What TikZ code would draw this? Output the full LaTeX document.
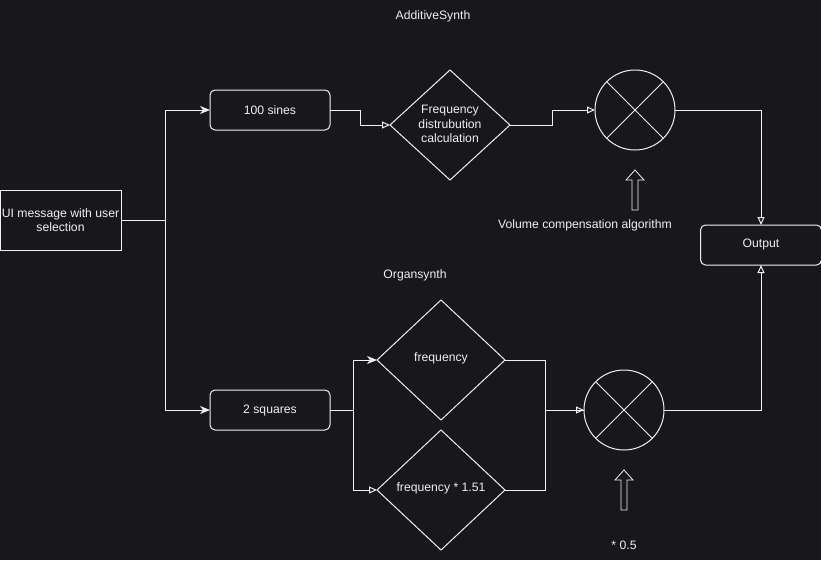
\documentclass[tikz,border=0pt]{standalone}
\usepackage{fontspec}
\setmainfont{Liberation Sans}
\usetikzlibrary{arrows.meta,shapes.geometric}
\definecolor{bgdark}{RGB}{24,23,28}
\definecolor{ink}{RGB}{240,240,240}
\begin{document}
\begin{tikzpicture}[x=1pt, y=-1pt, line width=1pt, draw=ink, text=ink,
	font=\fontsize{12.2}{14.5}\selectfont,
	box/.style={draw=ink, minimum width=120, minimum height=40, inner sep=0, outer sep=0},
	rbox/.style={box, rounded corners=5pt},
	dia/.style={diamond, draw=ink, inner sep=0, outer sep=0},
	mixer/.style={circle, draw=ink, minimum size=80, inner sep=0, outer sep=0},
	fillarr/.style={-{Stealth[length=10pt, width=8pt, inset=3pt]}},
	openarr/.style={-{Triangle[open, length=8pt, width=7pt]}, draw=ink}]
	\def\shaft{3};
	\def\head{9};
	\fill[bgdark] (0,0) rectangle (821,560);
	\useasboundingbox (0,0) rectangle (821,560);
	\node[box, minimum width=121, minimum height=60, align=center] (ui) at (60.5,220) {UI message with user\\selection};
	\node[rbox] (sines) at (270,110) {100 sines};
	\node[rbox] (squares) at (270,410) {2 squares};
	\node[rbox, minimum width=121] (out) at (761,245) {Output};
	\node[dia, minimum width=120, minimum height=110] (dist) at (450,125) {};
	\node[align=center] at ([yshift=1]dist) {Frequency\\distrubution\\calculation};
	\node[dia, minimum width=128, minimum height=120] (freq) at (441,360) {};
	\node at ([yshift=2]freq) {frequency};
	\node[dia, minimum width=128, minimum height=120] (freqb) at (441,490) {};
	\node at ([yshift=2]freqb) {frequency * 1.51};
	\node[mixer] (mixa) at (635,110) {};
	\draw (mixa.45) -- (mixa.225) (mixa.135) -- (mixa.315);
	\node[mixer] (mixb) at (624,410) {};
	\draw (mixb.45) -- (mixb.225) (mixb.135) -- (mixb.315);
	\node (addsynth) at (433,16) {AdditiveSynth};
	\node (orgsynth) at (415,275) {Organsynth};
	\node (volume) at (585,225) {Volume compensation algorithm};
	\node (half) at (624,545) {* 0.5};
	\draw[fillarr] (ui.east) -- ++(44,0) |- (sines.west);
	\draw[fillarr] (ui.east) -- ++(44,0) |- (squares.west);
	\draw[openarr] (sines.east) -- ++(30,0) |- (dist.west);
	\draw[openarr] (dist.east) -- ++(42,0) |- (mixa.west);
	\draw[openarr] (mixa.east) -| (out.north);
	\draw[fillarr] (squares.east) -- ++(23,0) |- (freq.west);
	\draw[openarr] (squares.east) -- ++(23,0) |- (freqb.west);
	\draw (freq.east) -- ++(40,0) |- (mixb.west);
	\draw[openarr] (freqb.east) -- ++(40,0) |- (mixb.west);
	\draw[openarr] (mixb.east) -| (out.south);
	\coordinate (tipa) at (635,170);
	\coordinate (tipb) at (624,470);
	\draw[line width=0.8pt] (tipa) -- ++(\head,10) -- ++(-\head+\shaft,0) -- ++(0,30) -- ++(-2*\shaft,0) -- ++(0,-30) -- ++(-\head+\shaft,0) -- cycle;
	\draw[line width=0.8pt] (tipb) -- ++(\head,10) -- ++(-\head+\shaft,0) -- ++(0,30) -- ++(-2*\shaft,0) -- ++(0,-30) -- ++(-\head+\shaft,0) -- cycle;
\end{tikzpicture}
\end{document}
